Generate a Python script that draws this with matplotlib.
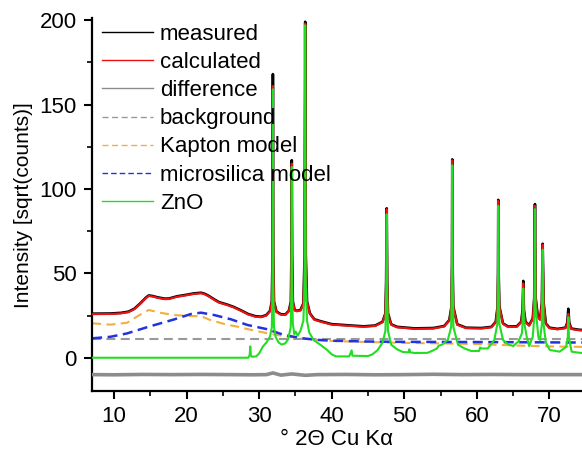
import matplotlib
matplotlib.use("Agg")
import matplotlib.pyplot as plt
from matplotlib.ticker import MultipleLocator
import numpy as np

plt.rcParams['font.family'] = ['Liberation Sans', 'DejaVu Sans']

# ---- data (2theta in degrees, intensity in sqrt(counts)) ----
calc_x = [7.0, 9.5, 11.0, 12.0, 12.8, 13.7, 14.4, 14.8, 15.3, 16.0, 17.0, 17.6, 18.7, 20.0, 21.0,
          22.0, 22.5, 23.0, 24.0, 24.5, 25.6, 26.5, 27.5, 28.5, 29.5, 30.3, 31.0, 31.5, 31.75, 31.85,
          31.9, 31.95, 32.05, 32.4, 33.0, 33.6, 34.1, 34.38, 34.45, 34.5, 34.55, 34.65, 34.9, 35.2,
          35.7, 36.1, 36.27, 36.35, 36.43, 36.6, 37.0, 37.6, 38.5, 40.0, 42.0, 44.4, 46.0, 47.0,
          47.4, 47.5, 47.58, 47.65, 47.75, 48.2, 49.0, 51.4, 54.0, 55.5, 56.2, 56.5, 56.57, 56.61,
          56.66, 56.75, 57.3, 58.5, 60.6, 62.0, 62.6, 62.85, 62.91, 62.95, 63.0, 63.1, 63.6, 64.3,
          65.5, 66.1, 66.3, 66.39, 66.48, 66.7, 67.2, 67.7, 67.9, 68.0, 68.1, 68.4, 68.7, 68.95,
          69.06, 69.2, 69.5, 70.0, 71.1, 72.2, 72.45, 72.6, 72.72, 73.0, 74.0, 75.0]
calc_y = [25.8, 25.9, 26.3, 27.0, 28.7, 32.2, 35.3, 36.6, 36.3, 35.5, 34.7, 34.8, 36.1, 37.0, 37.8,
          38.2, 37.6, 36.5, 33.8, 32.6, 31.2, 29.8, 27.8, 25.6, 24.3, 24.0, 25.0, 27.5, 33.0, 60.0,
          161.0, 60.0, 33.0, 27.0, 25.5, 25.3, 27.5, 33.0, 60.0, 115.0, 60.0, 33.0, 28.0, 27.5,
          28.0, 32.0, 60.0, 198.0, 60.0, 33.0, 26.0, 22.5, 21.3, 19.6, 19.0, 18.3, 18.8, 21.0,
          26.0, 45.0, 88.0, 45.0, 26.0, 19.5, 18.0, 17.1, 17.3, 18.5, 22.0, 30.0, 55.0, 117.0,
          55.0, 30.0, 19.5, 17.5, 17.3, 18.0, 21.0, 30.0, 50.0, 93.0, 50.0, 30.0, 20.0, 18.2,
          18.3, 21.0, 28.0, 44.0, 28.0, 21.0, 19.0, 23.0, 35.0, 90.0, 35.0, 24.0, 22.5, 32.0,
          67.0, 32.0, 20.0, 17.5, 16.8, 17.5, 20.0, 26.0, 20.0, 17.0, 16.3, 16.0]

meas_x = calc_x
meas_y = [26.1, 26.2, 26.6, 27.3, 29.0, 32.5, 35.6, 36.9, 36.6, 35.8, 35.0, 35.1, 36.4, 37.3, 38.1,
          38.5, 37.9, 36.8, 34.1, 32.9, 31.5, 30.1, 28.1, 25.9, 24.6, 24.3, 25.3, 27.8, 33.3, 61.0,
          168.0, 61.0, 33.3, 27.3, 25.8, 25.6, 27.8, 33.3, 61.0, 117.0, 61.0, 33.3, 28.3, 27.8,
          28.3, 32.3, 61.0, 199.0, 61.0, 33.3, 26.3, 22.8, 21.6, 19.9, 19.3, 18.6, 19.1, 21.3,
          26.3, 45.3, 88.5, 45.3, 26.3, 19.8, 18.3, 17.4, 17.6, 18.8, 22.3, 30.3, 55.5, 117.5,
          55.5, 30.3, 19.8, 17.8, 17.6, 18.3, 21.3, 30.3, 50.5, 93.5, 50.5, 30.3, 20.3, 18.5,
          18.6, 21.3, 28.3, 45.5, 28.3, 21.3, 19.3, 23.3, 35.3, 91.0, 35.3, 24.3, 22.8, 32.3,
          67.5, 32.3, 20.3, 17.8, 17.1, 17.8, 20.8, 29.0, 20.8, 17.3, 16.6, 16.3]

diff_x = [7.0, 10.0, 14.0, 18.0, 22.0, 26.0, 29.0, 31.0, 31.9, 33.0, 34.5, 36.35, 38.0, 42.0,
          46.0, 50.0, 54.0, 58.0, 62.0, 66.0, 70.0, 75.0]
diff_y = [-10.0, -10.1, -9.9, -10.0, -9.9, -10.0, -10.1, -10.0, -9.0, -10.3, -9.6, -10.4, -10.0,
          -9.9, -10.1, -10.0, -9.8, -10.0, -9.9, -10.0, -10.0, -10.0]

bg_x = [7.0, 75.0]
bg_y = [10.9, 10.9]

kapton_x = [7.0, 9.5, 11.8, 13.3, 14.8, 16.3, 18.3, 20.6, 22.0, 23.3, 25.2, 27.0, 28.8, 30.0, 32.0,
            34.0, 36.0, 38.0, 40.0, 45.0, 50.0, 55.0, 60.0, 65.0, 70.0, 75.0]
kapton_y = [20.4, 19.6, 20.7, 24.7, 28.3, 26.7, 25.3, 24.7, 24.6, 22.3, 20.0, 18.4, 16.6, 15.5,
            13.8, 12.5, 11.3, 10.5, 9.9, 9.3, 8.8, 8.5, 8.1, 7.3, 6.7, 6.4]

silica_x = [7.0, 9.5, 11.8, 14.8, 18.3, 20.6, 22.0, 23.8, 26.1, 28.4, 31.0, 33.5, 36.0, 38.0, 40.0,
            45.0, 50.0, 60.0, 70.0, 75.0]
silica_y = [11.5, 12.4, 14.4, 18.4, 22.7, 25.9, 26.7, 25.3, 22.8, 19.4, 17.0, 13.4, 11.5, 10.6,
            10.1, 9.6, 9.4, 9.3, 9.1, 9.0]

zno_x = [7.0, 28.5, 28.7, 28.78, 28.86, 29.0, 29.6, 30.0, 30.5, 31.0, 31.5, 31.75, 31.85, 31.9,
         31.95, 32.05, 32.3, 32.7, 33.1, 33.6, 34.0, 34.35, 34.45, 34.5, 34.55, 34.65, 34.85, 35.05,
         35.3, 35.7, 36.1, 36.28, 36.35, 36.42, 36.6, 36.9, 37.5, 38.5, 39.4, 40.0, 40.6, 42.4,
         42.75, 42.85, 45.0, 45.6, 46.3, 47.0, 47.4, 47.52, 47.58, 47.64, 47.75, 48.2, 49.0, 49.8,
         50.6, 50.7, 50.8, 51.5, 53.2, 53.8, 54.5, 54.7, 55.3, 56.0, 56.45, 56.56, 56.61, 56.66,
         56.77, 57.4, 58.3, 59.2, 60.3, 60.45, 60.6, 61.5, 62.4, 62.82, 62.91, 62.95, 63.0, 63.1,
         63.6, 64.3, 65.0, 65.4, 65.7, 66.2, 66.32, 66.39, 66.47, 66.86, 67.2, 67.7, 67.92, 68.0,
         68.08, 68.46, 68.7, 68.95, 69.06, 69.18, 69.5, 70.05, 71.4, 72.3, 72.52, 72.6, 72.68,
         73.05, 74.0, 75.0]
zno_y = [0.0, 0.0, 1.5, 6.7, 1.5, 0.6, 0.8, 2.5, 6.5, 9.0, 12.5, 18.0, 40.0, 159.0,
         40.0, 18.0, 12.0, 9.0, 7.8, 8.5, 11.0, 18.0, 40.0, 113.0, 40.0, 20.0, 14.0, 15.5,
         13.0, 16.0, 22.0, 45.0, 197.0, 45.0, 22.0, 15.0, 10.5, 7.5, 4.5, 2.0, 0.8, 0.8,
         4.4, 1.2, 1.0, 2.0, 4.4, 8.9, 16.0, 40.0, 85.0, 40.0, 16.0, 7.7, 5.0, 3.4,
         3.2, 5.0, 3.2, 2.8, 2.9, 4.0, 5.5, 7.0, 8.0, 10.7, 18.0, 45.0, 114.0, 45.0,
         18.0, 7.7, 5.5, 4.0, 4.0, 6.1, 5.5, 5.5, 10.5, 20.0, 45.0, 90.0, 45.0, 20.0,
         10.5, 8.0, 6.9, 8.5, 9.5, 14.4, 22.0, 41.0, 22.0, 12.5, 6.9, 12.5, 25.0, 88.0,
         30.0, 12.5, 10.5, 20.0, 64.0, 20.0, 9.0, 4.6, 3.6, 6.5, 12.0, 24.0, 12.0,
         3.6, 3.0, 2.6]

legend_labels = ['measured', 'calculated', 'difference', 'background',
                 'Kapton model', 'microsilica model', 'ZnO']

# ---- figure ----
fig = plt.figure(figsize=(5.82, 4.53), dpi=100)
ax = fig.add_axes([92 / 582, 1 - 391 / 453, 1 - 92 / 582, (391 - 18.4) / 453])

l_meas, = ax.plot(meas_x, meas_y, color='black', lw=1.9, zorder=3)
l_calc, = ax.plot(calc_x, calc_y, color='#ee1111', lw=1.5, zorder=4)
l_diff, = ax.plot(diff_x, diff_y, color='#8c8c8c', lw=2.6, zorder=3)
l_bg, = ax.plot(bg_x, bg_y, color='#999999', lw=1.5, dashes=(4.3, 2.6), zorder=2)
l_kap, = ax.plot(kapton_x, kapton_y, color='#f0b040', lw=1.5, dashes=(4.3, 2.6), zorder=2)
l_sil, = ax.plot(silica_x, silica_y, color='#2233dd', lw=1.8, dashes=(4.0, 2.2), zorder=2)
l_zno, = ax.plot(zno_x, zno_y, color='#22dd22', lw=1.5, zorder=5)

ax.set_xlim(6.98, 74.48)
ax.set_ylim(-19.7, 201.0)

for s in ['top', 'right']:
    ax.spines[s].set_visible(False)
for s in ['left', 'bottom']:
    ax.spines[s].set_linewidth(1.6)

ax.xaxis.set_major_locator(MultipleLocator(10))
ax.xaxis.set_minor_locator(MultipleLocator(5))
ax.yaxis.set_major_locator(MultipleLocator(50))
ax.yaxis.set_minor_locator(MultipleLocator(25))
ax.tick_params(which='major', direction='out', length=6, width=1.5, labelsize=16, pad=5)
ax.tick_params(which='minor', direction='out', length=3.5, width=1.2)

ax.set_ylabel('Intensity [sqrt(counts)]', fontsize=15, labelpad=5)
ax.set_xlabel('° 2Θ Cu Kα', fontsize=16, labelpad=1)

ax.legend([l_meas, l_calc, l_diff, l_bg, l_kap, l_sil, l_zno], legend_labels,
          loc='upper left', bbox_to_anchor=(10 / 490, 0.985), frameon=False, fontsize=16,
          handlelength=2.3, handletextpad=0.3, labelspacing=0.32, borderaxespad=0.0,
          borderpad=0.0)
leg = ax.get_legend()
for h in leg.legend_handles:
    h.set_linewidth(1.0)

fig.savefig('out.png', dpi=100)
